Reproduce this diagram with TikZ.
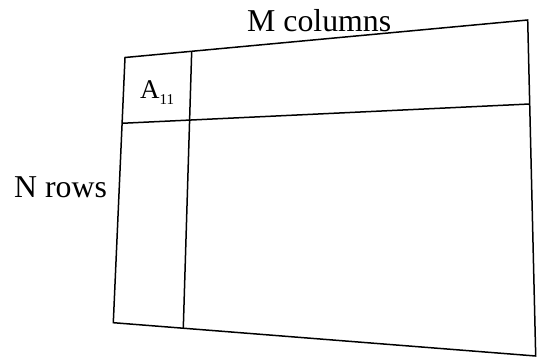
\documentclass[tikz,border=0pt]{standalone}
\usepackage{fontspec}
\setmainfont{Liberation Serif}
\usetikzlibrary{calc}
\begin{document}
\begin{tikzpicture}[x=1pt,y=-1pt,
  frame/.style={line width=1.5pt, line join=miter},
  lbl/.style={inner sep=0pt, anchor=base west, font=\fontsize{31.8}{36}\selectfont},
  cell/.style={inner sep=0pt, anchor=base west, font=\fontsize{27}{30}\selectfont}]
\useasboundingbox (0,0) rectangle (538,358);
\coordinate (tl) at (125,57.5);
\coordinate (tr) at (527.7,20);
\coordinate (br) at (535.7,356);
\coordinate (bl) at (113.3,322.7);
\coordinate (vt) at ($(tl)!0.1656!(tr)$);
\coordinate (vb) at ($(bl)!0.1657!(br)$);
\coordinate (hl) at ($(tl)!0.248!(bl)$);
\coordinate (hr) at ($(tr)!0.25!(br)$);
\draw[frame] (tl) -- (tr) -- (br) -- (bl) -- cycle;
\draw[frame] (vt) -- (vb);
\draw[frame] (hl) -- (hr);
\node[lbl] (mcol) at (247,32) {M columns};
\node[lbl] (nrow) at (14,198) {N rows};
\node[cell] (a11) at (140,98.5) {A\raisebox{-6.5pt}{\fontsize{15}{17}\selectfont 11}};
\end{tikzpicture}
\end{document}
